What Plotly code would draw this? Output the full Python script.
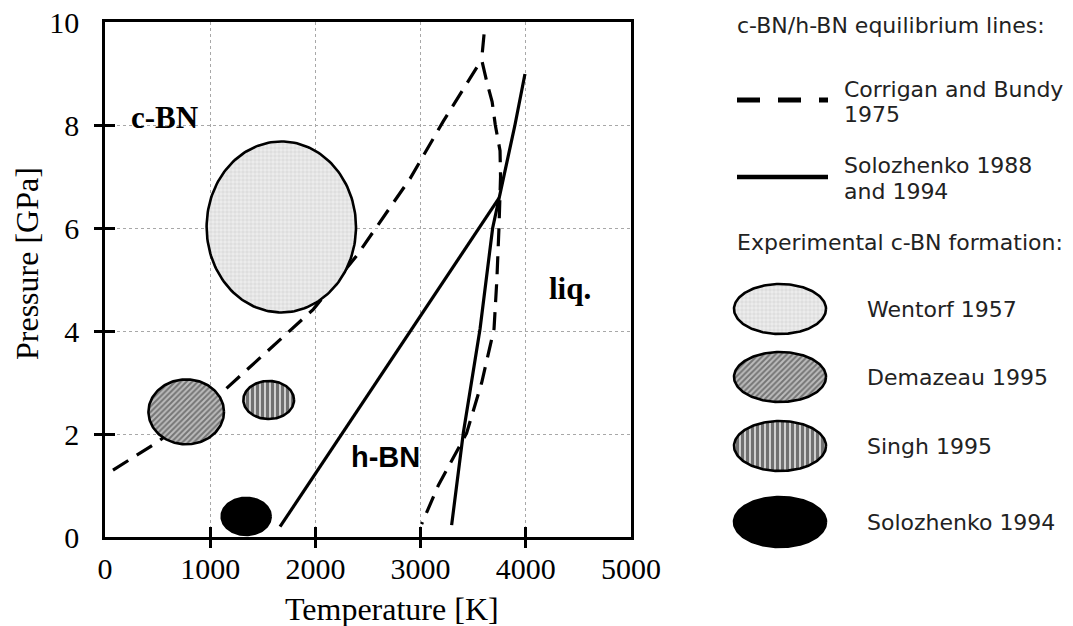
import numpy as np
import plotly.graph_objects as go

W, H = 1073, 626

# ---- axes -----------------------------------------------------------------
temp_ticks = [0, 1000, 2000, 3000, 4000, 5000]
temp_labels = ["0", "1000", "2000", "3000", "4000", "5000"]
pres_ticks = [0, 2, 4, 6, 8, 10]
pres_labels = ["0", "2", "4", "6", "8", "10"]
temp_inner = [1000, 2000, 3000, 4000]
pres_inner = [2, 4, 6, 8]

# ---- c-BN/h-BN equilibrium lines (T in K, P in GPa) -----------------------
# Corrigan and Bundy 1975: c-BN/h-BN boundary
cb_low_T = [76, 491, 1109, 1980, 2392, 2900, 3215, 3580]
cb_low_P = [1.30, 1.83, 2.80, 4.42, 5.46, 6.96, 8.07, 9.27]
# Corrigan and Bundy 1975: melting branch
cb_melt_T = [3603, 3580, 3630, 3680, 3710, 3755, 3760, 3755, 3745, 3725, 3698, 3581, 3438, 3168, 3010]
cb_melt_P = [9.76, 9.27, 8.83, 8.45, 8.00, 7.50, 7.00, 6.50, 6.00, 5.00, 4.04, 3.00, 2.02, 1.00, 0.25]
# Solozhenko 1988 and 1994: c-BN/h-BN boundary
sol_low_T = [1664, 3745]
sol_low_P = [0.20, 6.58]
# Solozhenko 1988 and 1994: melting line
sol_melt_T = [3295, 3406, 3565, 3685, 3897, 3992]
sol_melt_P = [0.23, 2.02, 4.04, 6.00, 8.00, 8.99]

# ---- experimental c-BN formation regions ---------------------------------
exp_names = ["Wentorf 1957", "Demazeau 1995", "Singh 1995", "Solozhenko 1994"]
exp_T = [1676, 772, 1556, 1342]        # centre temperature
exp_P = [6.02, 2.43, 2.66, 0.40]       # centre pressure
exp_dT = [710, 359, 241, 233]          # half width in T
exp_dP = [1.66, 0.63, 0.37, 0.36]      # half height in P

# ---- phase field labels ---------------------------------------------------
region_text = ["c-BN", "h-BN", "liq."]
region_T = [561, 2662, 4420]
region_P = [8.14, 1.55, 4.82]

SERIF = "Liberation Serif"
SANS = "Arial"
LEG = "DejaVu Sans"

fill_styles = [
    dict(fillcolor="#e8e8e8",
         fillpattern=dict(shape="+", fgcolor="#b0b0b0", bgcolor="#ececec", size=4, solidity=0.25)),
    dict(fillcolor="#a8a8a8",
         fillpattern=dict(shape="/", fgcolor="#2e2e2e", bgcolor="#bcbcbc", size=4, solidity=0.5)),
    dict(fillcolor="#999999",
         fillpattern=dict(shape="|", fgcolor="#111111", bgcolor="#cfcfcf", size=5, solidity=0.6)),
    dict(fillcolor="#000000"),
]

theta = np.linspace(0, 2 * np.pi, 181)


def ellipse(xc, yc, rx, ry):
    return xc + rx * np.cos(theta), yc + ry * np.sin(theta)


fig = go.Figure()

dash_main = "18px,10px"
line_w = 3.2

for tx, py in [(cb_low_T, cb_low_P), (cb_melt_T, cb_melt_P)]:
    fig.add_trace(go.Scatter(x=tx, y=py, mode="lines", showlegend=False, hoverinfo="skip",
                             line=dict(color="black", width=line_w, dash=dash_main)))
for tx, py in [(sol_low_T, sol_low_P), (sol_melt_T, sol_melt_P)]:
    fig.add_trace(go.Scatter(x=tx, y=py, mode="lines", showlegend=False, hoverinfo="skip",
                             line=dict(color="black", width=line_w)))

for i in range(len(exp_names)):
    ex, ey = ellipse(exp_T[i], exp_P[i], exp_dT[i], exp_dP[i])
    fig.add_trace(go.Scatter(x=ex, y=ey, mode="lines", fill="toself", name=exp_names[i],
                             showlegend=False, hoverinfo="skip",
                             line=dict(color="black", width=2.6), **fill_styles[i]))

# tick-mark axes (ticks crossing the frame on both sides)
fig.add_trace(go.Scatter(x=[None], y=[None], xaxis="x2", yaxis="y2", showlegend=False))
fig.add_trace(go.Scatter(x=[None], y=[None], xaxis="x3", yaxis="y3", showlegend=False))

# ---- key panel (pixel units) ----------------------------------------------
key_x0, key_x1 = 737, 828
key_line_y = [100, 177]
key_text_x = 842
key_ell_cx, key_ell_rx, key_ell_ry = 780, 46, 25
key_ell_y = [309, 377, 446, 522]
key_ell_text_x = 865

fig.add_trace(go.Scatter(x=[key_x0, key_x1], y=[key_line_y[0]] * 2, xaxis="x4", yaxis="y4",
                         mode="lines", showlegend=False, hoverinfo="skip",
                         line=dict(color="black", width=5, dash="23px,18px,23px,18px,9px,200px")))
fig.add_trace(go.Scatter(x=[key_x0, key_x1], y=[key_line_y[1]] * 2, xaxis="x4", yaxis="y4",
                         mode="lines", showlegend=False, hoverinfo="skip",
                         line=dict(color="black", width=4.5)))
for i in range(len(exp_names)):
    ex, ey = ellipse(key_ell_cx, key_ell_y[i], key_ell_rx, key_ell_ry)
    fig.add_trace(go.Scatter(x=ex, y=ey, xaxis="x4", yaxis="y4", mode="lines", fill="toself",
                             showlegend=False, hoverinfo="skip",
                             line=dict(color="black", width=2.6), **fill_styles[i]))

annotations = []
# phase field labels
for txt, t, p in zip(region_text, region_T, region_P):
    fam = SANS if txt == "h-BN" else SERIF
    size = 29 if txt == "h-BN" else 31
    annotations.append(dict(text=f"<b>{txt}</b>", x=t, y=p, xref="x", yref="y", showarrow=False,
                            xanchor="center", yanchor="middle",
                            font=dict(family=fam, size=size, color="black")))

# axis titles
annotations.append(dict(text="Temperature [K]", x=392 / W, y=1 - 609 / H, xref="paper", yref="paper",
                        xanchor="center", yanchor="middle",
                        showarrow=False, font=dict(family=SERIF, size=32, color="black")))
annotations.append(dict(text="Pressure [GPa]", x=27 / W, y=1 - 264 / H, xref="paper", yref="paper",
                        xanchor="center", yanchor="middle",
                        textangle=-90, showarrow=False, font=dict(family=SERIF, size=32, color="black")))

# key texts
key_texts = [
    ("c-BN/h-BN equilibrium lines:", 735, 25),
    ("Corrigan and Bundy", key_text_x, 89),
    ("1975", key_text_x, 114),
    ("Solozhenko 1988", key_text_x, 165),
    ("and 1994", key_text_x, 191),
    ("Experimental c-BN formation:", 735, 242),
]
for i, name in enumerate(exp_names):
    key_texts.append((name, key_ell_text_x, key_ell_y[i]))
for txt, kx, ky in key_texts:
    annotations.append(dict(text=txt, x=kx, y=ky, xref="x4", yref="y4", xanchor="left",
                            yanchor="middle", showarrow=False,
                            font=dict(family=LEG, size=22, color="#222222")))

x_dom = [105 / W, 631 / W]
y_dom = [1 - 537 / H, 1 - 22 / H]

frame = dict(showline=True, linecolor="black", linewidth=2.6, mirror=True, zeroline=False,
             automargin=False)
grid = dict(showgrid=True, gridcolor="#a8a8a8", griddash="dot", gridwidth=1)
tick_font = dict(family=SERIF, size=30, color="black")
tick_axis = dict(ticklen=10, tickwidth=2.6, tickcolor="black", showticklabels=False,
                 showgrid=False, zeroline=False, showline=False, automargin=False)

fig.update_layout(
    width=W, height=H,
    margin=dict(l=0, r=0, t=0, b=0, autoexpand=False),
    paper_bgcolor="white", plot_bgcolor="white",
    showlegend=False,
    xaxis=dict(domain=x_dom, range=[0, 5000], tickvals=temp_ticks, ticktext=temp_labels,
               ticks="", tickfont=tick_font, ticklabelstandoff=3, **frame, **grid),
    yaxis=dict(domain=y_dom, range=[0, 10], tickvals=pres_ticks, ticktext=pres_labels,
               ticks="", tickfont=tick_font, ticklabelstandoff=17, **frame, **grid),
    xaxis2=dict(overlaying="x", anchor="y", range=[0, 5000], tickvals=temp_inner, ticks="outside",
                **tick_axis),
    yaxis2=dict(overlaying="y", anchor="x", range=[0, 10], tickvals=pres_inner, ticks="outside",
                **tick_axis),
    xaxis3=dict(overlaying="x", anchor="y", range=[0, 5000], tickvals=temp_inner, ticks="inside",
                **tick_axis),
    yaxis3=dict(overlaying="y", anchor="x", range=[0, 10], tickvals=pres_inner, ticks="inside",
                **tick_axis),
    xaxis4=dict(domain=[700 / W, 1], range=[700, W], visible=False, fixedrange=True, automargin=False),
    yaxis4=dict(domain=[0, 1], range=[H, 0], visible=False, anchor="x4", fixedrange=True,
                automargin=False),
    annotations=annotations,
)

fig.write_html("out.html")
